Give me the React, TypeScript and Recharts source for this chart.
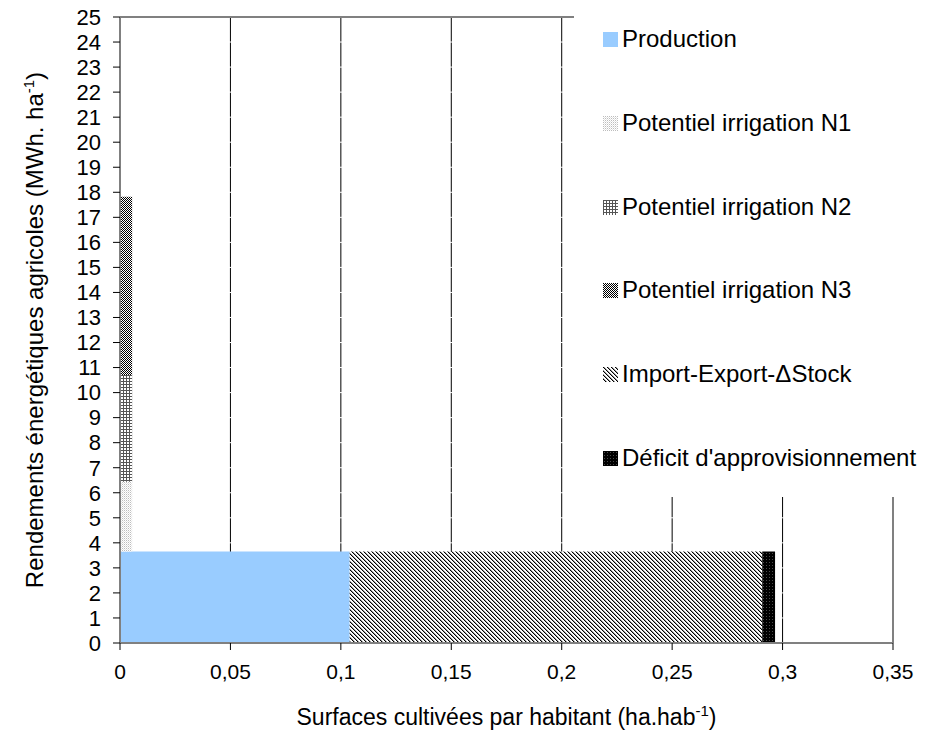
import React from "react";
import { CartesianGrid, ComposedChart, ReferenceArea, ReferenceLine, XAxis, YAxis } from "recharts";

const categories = [
  "Production",
  "Potentiel irrigation N1",
  "Potentiel irrigation N2",
  "Potentiel irrigation N3",
  "Import-Export-ΔStock",
  "Déficit d'approvisionnement",
];
const xStart = [0, 0, 0, 0, 0.104, 0.2908];
const xEnd = [0.104, 0.0055, 0.0055, 0.0055, 0.2908, 0.2966];
const yLow = [0, 3.65, 6.44, 10.7, 0, 0];
const yHigh = [3.65, 6.44, 10.7, 17.82, 3.65, 3.65];

const xTicks = [0, 0.05, 0.1, 0.15, 0.2, 0.25, 0.3, 0.35];
const yTicks = [0, 1, 2, 3, 4, 5, 6, 7, 8, 9, 10, 11, 12, 13, 14, 15, 16, 17, 18, 19, 20, 21, 22, 23, 24, 25];

const fills = ["#99ccff", "url(#pN1)", "url(#pN2)", "url(#pN3)", "url(#pImp)", "url(#pDef)"];

const FONT = "'Liberation Sans', Arial, sans-serif";

function Patterns() {
  return (
    <svg width={0} height={0} style={{ position: "absolute" }}>
      <defs>
        <pattern id="pN1" width={2} height={2} patternUnits="userSpaceOnUse">
          <rect width={2} height={2} fill="#ffffff" />
          <rect x={0} y={0} width={1} height={1} fill="#bdbdbd" />
          <rect x={1} y={1} width={1} height={1} fill="#e4e4e4" />
        </pattern>
        <pattern id="pN2" width={3} height={3} patternUnits="userSpaceOnUse">
          <rect width={3} height={3} fill="#ffffff" />
          <rect x={0} y={0} width={3} height={1} fill="#555555" />
          <rect x={0} y={0} width={1} height={3} fill="#555555" />
        </pattern>
        <pattern id="pN3" width={2} height={2} patternUnits="userSpaceOnUse">
          <rect width={2} height={2} fill="#ffffff" />
          <rect x={0} y={0} width={1} height={1} fill="#000000" />
          <rect x={1} y={1} width={1} height={1} fill="#000000" />
        </pattern>
        <pattern id="pImp" width={4} height={4} patternUnits="userSpaceOnUse">
          <rect width={4} height={4} fill="#ffffff" />
          <rect x={0} y={0} width={1} height={1} fill="#000" />
          <rect x={1} y={1} width={1} height={1} fill="#000" />
          <rect x={2} y={2} width={1} height={1} fill="#000" />
          <rect x={3} y={3} width={1} height={1} fill="#000" />
          <rect x={1} y={0} width={1} height={1} fill="#9a9a9a" />
          <rect x={2} y={1} width={1} height={1} fill="#9a9a9a" />
          <rect x={3} y={2} width={1} height={1} fill="#9a9a9a" />
          <rect x={0} y={3} width={1} height={1} fill="#9a9a9a" />
        </pattern>
        <pattern id="pDef" width={3} height={3} patternUnits="userSpaceOnUse">
          <rect width={3} height={3} fill="#000000" />
          <rect x={1} y={1} width={1} height={1} fill="#4a4a4a" />
        </pattern>
      </defs>
    </svg>
  );
}

function XTitle(props: any) {
  const vb = props.viewBox || { x: 120, y: 643, width: 773 };
  return (
    <text x={vb.x + vb.width / 2} y={725} textAnchor="middle" fontSize={23} fontFamily={FONT} fill="#000">
      Surfaces cultivées par habitant (ha.hab
      <tspan dy={-9} fontSize={15}>-1</tspan>
      <tspan dy={9}>)</tspan>
    </text>
  );
}

function YTitle() {
  return (
    <text x={0} y={0} transform="translate(43, 330) rotate(-90)" textAnchor="middle" fontSize={24} fontFamily={FONT} fill="#000">
      Rendements énergétiques agricoles (MWh. ha
      <tspan dy={-9} fontSize={15}>-1</tspan>
      <tspan dy={9}>)</tspan>
    </text>
  );
}

function LegendBox() {
  const tops = [39, 123, 207, 290, 374, 458];
  return (
    <div style={{ position: "absolute", left: 574, top: 0, width: 358, height: 497, background: "#fff" }}>
      {categories.map((name, i) => (
        <div key={name} style={{ position: "absolute", left: 29, top: tops[i] - 14, height: 28, display: "flex", alignItems: "center", whiteSpace: "nowrap" }}>
          <svg width={15} height={15} style={{ marginRight: 4 }}>
            <rect width={15} height={15} fill={fills[i]} />
          </svg>
          <span style={{ fontFamily: FONT, fontSize: 24, color: "#000" }}>{name}</span>
        </div>
      ))}
    </div>
  );
}

export default function App() {
  return (
    <div style={{ position: "absolute", left: 0, top: 0, width: 932, height: 730, background: "#fff", fontFamily: FONT }}>
      <Patterns />
      <ComposedChart width={932} height={730} margin={{ top: 17, right: 39, bottom: 0, left: 0 }}>
        <CartesianGrid horizontal={false} vertical stroke="#000" strokeWidth={1} />
        <CartesianGrid horizontal vertical={false} stroke="#fff" strokeWidth={1} />
        <XAxis
          type="number"
          dataKey="x"
          domain={[0, 0.35]}
          ticks={xTicks}
          interval={0}
          height={87}
          allowDataOverflow
          axisLine={{ stroke: "#808080", strokeWidth: 2 }}
          tickLine={{ stroke: "#000" }}
          tickSize={7}
          tickMargin={14}
          tick={{ fill: "#000", fontSize: 21, fontFamily: FONT }}
          tickFormatter={(v: number) => String(v).replace(".", ",")}
          label={<XTitle />}
        />
        <YAxis
          type="number"
          dataKey="y"
          domain={[0, 25]}
          ticks={yTicks}
          interval={0}
          width={120}
          allowDataOverflow
          axisLine={{ stroke: "#808080", strokeWidth: 2 }}
          tickLine={{ stroke: "#000" }}
          tickSize={7}
          tickMargin={12}
          tick={{ fill: "#000", fontSize: 22, fontFamily: FONT }}
          label={<YTitle />}
        />
        <ReferenceLine y={25} stroke="#808080" strokeWidth={2} ifOverflow="visible" />
        <ReferenceLine x={0.35} stroke="#808080" strokeWidth={2} ifOverflow="visible" />
        {categories.map((name, i) => (
          <ReferenceArea
            key={name}
            x1={xStart[i]}
            x2={xEnd[i]}
            y1={yLow[i]}
            y2={yHigh[i]}
            fill={fills[i]}
            fillOpacity={1}
            stroke="none"
            ifOverflow="visible"
          />
        ))}
      </ComposedChart>
      <LegendBox />
    </div>
  );
}
